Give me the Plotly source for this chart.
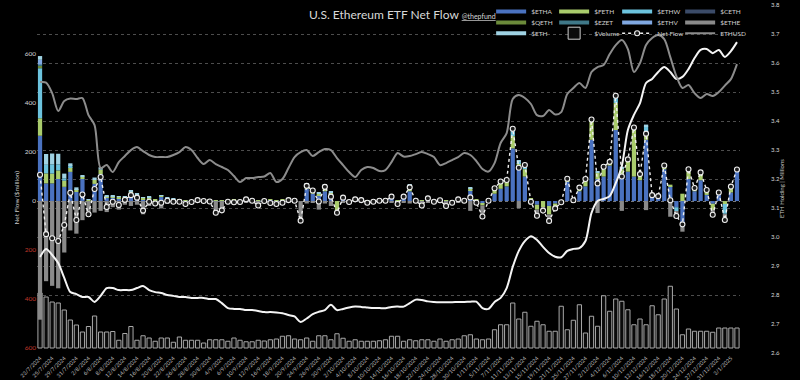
import plotly.graph_objects as go

dates = [
    "23/7/2024", "24/7/2024", "25/7/2024", "26/7/2024", "29/7/2024", "30/7/2024", "31/7/2024",
    "1/8/2024", "2/8/2024", "5/8/2024", "6/8/2024", "7/8/2024", "8/8/2024", "9/8/2024", "12/8/2024",
    "13/8/2024", "14/8/2024", "15/8/2024", "16/8/2024", "19/8/2024", "20/8/2024", "21/8/2024",
    "22/8/2024", "23/8/2024", "26/8/2024", "27/8/2024", "28/8/2024", "29/8/2024", "30/8/2024",
    "3/9/2024", "4/9/2024", "5/9/2024", "6/9/2024", "9/9/2024", "10/9/2024", "11/9/2024", "12/9/2024",
    "13/9/2024", "16/9/2024", "17/9/2024", "18/9/2024", "19/9/2024", "20/9/2024", "23/9/2024",
    "24/9/2024", "25/9/2024", "26/9/2024", "27/9/2024", "30/9/2024",
    "1/10/2024", "2/10/2024", "3/10/2024", "4/10/2024", "7/10/2024", "8/10/2024", "9/10/2024",
    "10/10/2024", "11/10/2024", "14/10/2024", "15/10/2024", "16/10/2024", "17/10/2024", "18/10/2024",
    "21/10/2024", "22/10/2024", "23/10/2024", "24/10/2024", "25/10/2024", "28/10/2024", "29/10/2024",
    "30/10/2024", "31/10/2024",
    "1/11/2024", "4/11/2024", "5/11/2024", "6/11/2024", "7/11/2024", "8/11/2024", "11/11/2024",
    "12/11/2024", "13/11/2024", "14/11/2024", "15/11/2024", "18/11/2024", "19/11/2024", "20/11/2024",
    "21/11/2024", "22/11/2024", "25/11/2024", "26/11/2024", "27/11/2024", "29/11/2024",
    "2/12/2024", "3/12/2024", "4/12/2024", "5/12/2024", "6/12/2024", "9/12/2024", "10/12/2024",
    "11/12/2024", "12/12/2024", "13/12/2024", "16/12/2024", "17/12/2024", "18/12/2024", "19/12/2024",
    "20/12/2024", "23/12/2024", "24/12/2024", "26/12/2024", "27/12/2024", "30/12/2024", "31/12/2024",
    "2/1/2025", "3/1/2025", "6/1/2025",
]
tick_labels = dates[::2]

# ---- daily flows per ETF ($ million) ----
etha = [266.5, 72, 72, 90, 58, 119, 37, 90, 0, 70,
        110, 15, 15, 12, 12, 35, 20, 8, 12, 3,
        18, 6, 4, 3, 1, 2, 6, 4, 4, 3,
        1, 2, 3, 2, 7, 4, 1, 4, 5, 2,
        3, 8, 4, 0, 50, 30, 22, 40, 25, 0,
        12, 2, 6, 5, 2, 2, 3, 3, 17, 2,
        15, 40, 4, 1, 10, 2, 4, 1, 2, 8,
        4, 45, 3, -10, 2, 30, 50, 60, 215, 130,
        100, 10, -15, 0, -20, -10, 0, 80, 10, 40,
        60, 250, 90, 100, 145, 290, 100, 120, 100, 85,
        250, 20, 15, 130, 60, -25, -105, 90, 40, 85,
        25, -11, 25, 0, 35, 125]
feth = [71.3, 41, 40, 35, 25, 19, 12, 10, 5, 16,
        18, 4, 5, 5, 6, 6, 6, 6, 4, 2,
        4, 6, 4, 2, 1, 2, 2, 2, 2, 1,
        1, 2, 2, 2, 3, 2, 1, 2, 2, 2,
        2, 3, 2, 0, 14, 10, 8, 25, 10, -38,
        5, 2, 3, 2, 1, 1, 2, 2, 4, 1,
        6, 20, 2, 1, 4, 1, 2, 1, 1, 3,
        2, 8, 2, -8, 1, 16, 20, 20, 50, 25,
        30, 2, -20, -25, -35, -10, 3, 5, 1, 10,
        25, 75, 25, 30, 12, 110, 30, 45, 190, 20,
        30, 2, 3, 10, 7, 0, 30, 30, 10, 28,
        15, -25, 8, -12, 20, 2]
ethw = [204.2, 35, 38, 25, 10, 8, 0, 0, 0, 0,
        0, 0, 0, 0, 0, 0, 0, 0, 0, 0,
        0, 0, 0, 0, 0, 0, 0, 0, 0, 0,
        0, 0, 0, 0, 0, 0, 0, 0, 0, 0,
        0, 0, 0, 0, 5, 5, 0, 0, 0, 0,
        0, 0, 0, 0, 0, 0, 0, 0, 0, 0,
        0, 3, 0, 0, 0, 0, 0, 0, 0, 0,
        0, 0, 0, 0, 0, 2, 5, 3, 20, 5,
        10, 0, 0, 0, 0, 0, 0, 0, 0, 0,
        0, 0, 0, 0, 0, 20, 0, 0, 0, 0,
        25, 0, 0, 0, 0, -16, 0, 0, 0, 0,
        0, 0, 0, -40, 0, 0]
ceth = [0.0] * 116
qeth = [10.2] + [0.0] * 115
ezet = [5.1] + [0.0] * 115
ethv = [19.0] + [0.0] * 115
ethe = [-484.1, -327, -346, -356, -210, -120, -133, -78, -61, -47,
        -40, -45, -25, -35, -15, -20, -15, -54, -20, -15,
        -30, -12, -12, -8, -14, -8, -5, -6, -8, -52,
        -40, -7, -10, -8, -4, -5, -20, -6, -15, -16,
        -12, -8, -6, -80, -10, -5, -35, -10, -20, -10,
        -5, -8, -3, -4, -10, -6, -4, -4, -5, -15,
        -5, -10, -5, -20, -5, -6, -3, -22, -10, -5,
        -5, -40, -12, -45, -3, 0, 0, 0, 0, -29,
        0, -15, -25, -10, -20, -10, -8, 0, -8, 0,
        0, 0, -49, 0, 0, 0, -40, 0, 0, 0,
        -37, 0, 0, 0, -64, -20, -20, 0, 0, 0,
        0, -20, 0, -25, 0, 0]
eth_mini = [15.4, 44, 44, 43, 19, 8, 7, 5, 2, 10,
            10, 2, 2, 2, 2, 3, 3, 1, 1, 0,
            1, 1, 1, 0, 0, 0, 1, 0, 0, 0,
            0, 0, 0, 0, 1, 0, 0, 0, 0, 0,
            0, 1, 1, 0, 3, 3, 3, 3, 3, 0,
            2, 0, 1, 1, 0, 0, 0, 0, 2, 0,
            2, 3, 0, 0, 2, 0, 0, 0, 0, 1,
            0, 2, 0, 0, 1, 4, 5, 3, 10, 5,
            7, 0, 0, -4, -6, 0, 0, 6, 0, 5,
            5, 8, 6, 10, 3, 10, 10, 5, 10, 5,
            7, 2, 2, 5, 0, 0, 0, 10, 3, 4,
            5, 0, 2, 0, 4, 2]

# trading volume ($ million)
volume = [1100, 1020, 920, 900, 760, 560, 460, 320, 430, 640,
          320, 320, 330, 155, 290, 430, 155, 245, 200, 135,
          200, 200, 115, 220, 155, 155, 155, 100, 165, 165,
          165, 135, 200, 155, 125, 125, 155, 140, 165, 180,
          235, 245, 180, 165, 200, 135, 245, 245, 165, 285,
          195, 135, 165, 135, 135, 135, 145, 165, 235, 235,
          135, 165, 145, 165, 165, 135, 180, 135, 165, 180,
          245, 265, 180, 165, 180, 365, 465, 465, 900, 580,
          715, 435, 535, 465, 335, 335, 835, 365, 555, 865,
          300, 635, 435, 1045, 735, 980, 935, 765, 465, 580,
          465, 845, 665, 980, 1235, 780, 265, 380, 335, 335,
          335, 315, 400, 400, 400, 400]

# ETH price (USD)
ethusd = [3459, 3453, 3338, 3142, 3251, 3278, 3273, 3284, 3098, 2989,
          2520, 2552, 2476, 2585, 2651, 2716, 2749, 2705, 2662, 2640,
          2640, 2640, 2662, 2694, 2749, 2716, 2629, 2563, 2607, 2563,
          2531, 2498, 2432, 2367, 2410, 2410, 2421, 2427, 2465, 2367,
          2400, 2520, 2640, 2694, 2716, 2651, 2694, 2727, 2716, 2629,
          2552, 2476, 2421, 2498, 2531, 2520, 2487, 2498, 2585, 2683,
          2645, 2651, 2672, 2694, 2672, 2640, 2552, 2574, 2607, 2640,
          2683, 2662, 2596, 2509, 2481, 2574, 2793, 2902, 3273, 3317,
          3284, 3219, 3098, 3088, 3153, 3104, 3131, 3328, 3393, 3448,
          3393, 3568, 3622, 3644, 3764, 3862, 3917, 3819, 3568, 3666,
          3862, 3939, 3972, 3928, 3731, 3524, 3393, 3426, 3338, 3284,
          3328, 3306, 3349, 3420, 3491, 3655]

# ETH held by the ETFs (millions of ETH)
holdings = [2.931, 2.959, 2.938, 2.910, 2.859, 2.810, 2.803, 2.793, 2.793, 2.776,
            2.797, 2.824, 2.824, 2.817, 2.817, 2.817, 2.824, 2.831, 2.817, 2.810,
            2.807, 2.800, 2.797, 2.793, 2.793, 2.790, 2.790, 2.790, 2.786, 2.786,
            2.772, 2.755, 2.752, 2.752, 2.748, 2.748, 2.745, 2.741, 2.741, 2.740,
            2.737, 2.731, 2.726, 2.707, 2.719, 2.734, 2.742, 2.748, 2.766, 2.748,
            2.752, 2.757, 2.760, 2.759, 2.757, 2.755, 2.755, 2.754, 2.759, 2.760,
            2.760, 2.772, 2.784, 2.783, 2.778, 2.776, 2.775, 2.775, 2.775, 2.776,
            2.776, 2.777, 2.777, 2.755, 2.752, 2.776, 2.790, 2.824, 2.897, 2.952,
            2.986, 3.003, 2.990, 2.966, 2.945, 2.932, 2.930, 2.952, 2.959, 2.962,
            2.986, 3.083, 3.124, 3.131, 3.141, 3.186, 3.245, 3.369, 3.421, 3.462,
            3.531, 3.545, 3.569, 3.586, 3.569, 3.545, 3.552, 3.579, 3.617, 3.645,
            3.648, 3.634, 3.645, 3.621, 3.641, 3.672]

left_tick_vals = [-600, -400, -200, 0, 200, 400, 600]
left_tick_text = ["<span style='color:#c0392b'>600</span>", "<span style='color:#c0392b'>400</span>",
                  "<span style='color:#c0392b'>200</span>", "0", "200", "400", "600"]
grid_vals = [2.8, 2.9, 3.0, 3.1, 3.2, 3.3, 3.4, 3.5, 3.6, 3.7]

etf_series = [
    ("$ETHA", etha, "#4a72c0", "legend"),
    ("$FETH", feth, "#a9cc6c", "legend"),
    ("$ETHW", ethw, "#6cc3de", "legend"),
    ("$CETH", ceth, "#3b4b68", "legend"),
    ("$QETH", qeth, "#6b8a3a", "legend2"),
    ("$EZET", ezet, "#3f7888", "legend2"),
    ("$ETHV", ethv, "#80a8e2", "legend2"),
    ("$ETHE", ethe, "#8a8a8a", "legend2"),
    ("$ETH", eth_mini, "#9fd2e3", "legend3"),
]

net_flow = [round(sum(v), 1) for v in zip(etha, feth, ethw, ceth, qeth, ezet, ethv, ethe, eth_mini)]

FONT = "Lato"
fig = go.Figure()

# volume (main, hidden axis -> drawn at the back)
fig.add_trace(go.Bar(x=dates, y=volume, yaxis="y", name="$Volume", showlegend=False,
                     marker=dict(color="#0a0a0a", line=dict(color="#a8a8a8", width=1))))

for name, vals, col, lg in etf_series:
    fig.add_trace(go.Bar(x=dates, y=vals, yaxis="y2", name=name, showlegend=False,
                         marker=dict(color=col, line=dict(width=0))))

# legend entries (rows of four)
for name, vals, col, lg in etf_series:
    fig.add_trace(go.Scatter(x=[None], y=[None], yaxis="y2", mode="lines", name=name, legend=lg,
                             line=dict(color=col, width=4), hoverinfo="skip"))
fig.add_trace(go.Bar(x=[None], y=[None], yaxis="y", name="$Volume", legend="legend3",
                     marker=dict(color="#0a0a0a", line=dict(color="#cfcfcf", width=1))))

fig.add_trace(go.Scatter(x=dates, y=net_flow, yaxis="y2", mode="lines+markers", name="Net Flow",
                         legend="legend3",
                         line=dict(color="#f0f0f0", width=1.4, dash="dot"),
                         marker=dict(size=5, color="#1c1c1c", line=dict(color="#f0f0f0", width=1.1))))

fig.add_trace(go.Scatter(x=dates, y=holdings, yaxis="y3", mode="lines", name="ETH Holding",
                         showlegend=False, line=dict(color="#f4f4f4", width=2, shape="spline", smoothing=0.8)))

fig.add_trace(go.Scatter(x=dates, y=ethusd, yaxis="y4", mode="lines", name="ETHUSD", legend="legend3",
                         line=dict(color="#8c8c8c", width=2, shape="spline", smoothing=0.8)))

# invisible spacer so the last legend text is not clipped
fig.add_trace(go.Scatter(x=[None], y=[None], yaxis="y4", mode="lines", name=" ", legend="legend3",
                         line=dict(color="rgba(0,0,0,0)", width=0), hoverinfo="skip"))

# anchors for the grid axes
fig.add_trace(go.Scatter(x=[dates[0]], y=[None], yaxis="y5", showlegend=False, hoverinfo="skip"))
fig.add_trace(go.Scatter(x=[dates[0]], y=[None], yaxis="y6", showlegend=False, hoverinfo="skip"))

leg_common = dict(orientation="h", xanchor="left", yanchor="middle", bgcolor="rgba(0,0,0,0)",
                  font=dict(family=FONT, size=6.5, color="#d0d0d0"), itemwidth=30,
                  entrywidth=18, entrywidthmode="pixels", tracegroupgap=0)

fig.update_layout(
    width=800, height=380,
    paper_bgcolor="#000000", plot_bgcolor="#000000",
    margin=dict(l=37, r=60, t=5, b=27, autoexpand=False),
    barmode="relative", bargap=0.3,
    font=dict(family=FONT, color="#cccccc"),
    xaxis=dict(type="category", range=[-0.5, 115.5], tickmode="array", tickvals=tick_labels,
               ticktext=tick_labels, tickangle=-45, tickfont=dict(size=5.5, color="#bdbdbd"),
               showgrid=False, zeroline=False, showline=False, ticks="", anchor="y", automargin=False),
    yaxis=dict(range=[-100, 6860], visible=False, fixedrange=True),
    yaxis2=dict(overlaying="y", side="left", range=[-620, 800], tickmode="array",
                tickvals=left_tick_vals, ticktext=left_tick_text, tickfont=dict(size=6.5, color="#d6d6d6"),
                showgrid=False, zeroline=False, showline=False, ticks="", automargin=False),
    yaxis3=dict(overlaying="y", side="right", range=[2.6, 3.8], tick0=2.6, dtick=0.1, tickformat=".1f",
                tickfont=dict(size=6, color="#d6d6d6"), showgrid=False, zeroline=False, showline=False,
                ticks="", ticklabelstandoff=30, automargin=False),
    yaxis4=dict(overlaying="y", range=[500, 4300], visible=False),
    yaxis5=dict(overlaying="y", range=[2.6, 3.8], tickmode="array", tickvals=grid_vals, showgrid=True,
                gridcolor="#4d4d4d", gridwidth=1, griddash="dot", showticklabels=False, zeroline=False,
                showline=False, ticks=""),
    yaxis6=dict(overlaying="y", range=[-620, 800], tickmode="array", tickvals=[0], showgrid=True,
                gridcolor="#777777", gridwidth=1, griddash="dot", showticklabels=False, zeroline=False,
                showline=False, ticks=""),
    legend=dict(x=0.646, y=0.981, **leg_common),
    legend2=dict(x=0.646, y=0.950, **leg_common),
    legend3=dict(x=0.646, y=0.919, **leg_common),
    annotations=[
        dict(text="U.S. Ethereum ETF Net Flow <span style='font-size:7px'><u>@thepfund</u></span>",
             xref="paper", yref="paper", x=0.384, y=0.972, xanchor="left", yanchor="middle",
             showarrow=False, font=dict(family=FONT, size=12, color="#d8d8d8")),
        dict(text="Net Flow ($million)", xref="paper", yref="paper", x=-0.037, y=0.448,
             textangle=-90, showarrow=False, font=dict(family=FONT, size=6.5, color="#c8c8c8")),
        dict(text="ETH Holding | Millions", xref="paper", yref="paper", x=1.066, y=0.474,
             textangle=-90, showarrow=False, font=dict(family=FONT, size=6, color="#c8c8c8")),
    ],
    showlegend=True,
)

fig.write_html("out.html", config={"displayModeBar": False},
               post_script="document.body.style.margin='0px';document.body.style.overflow='hidden';")
